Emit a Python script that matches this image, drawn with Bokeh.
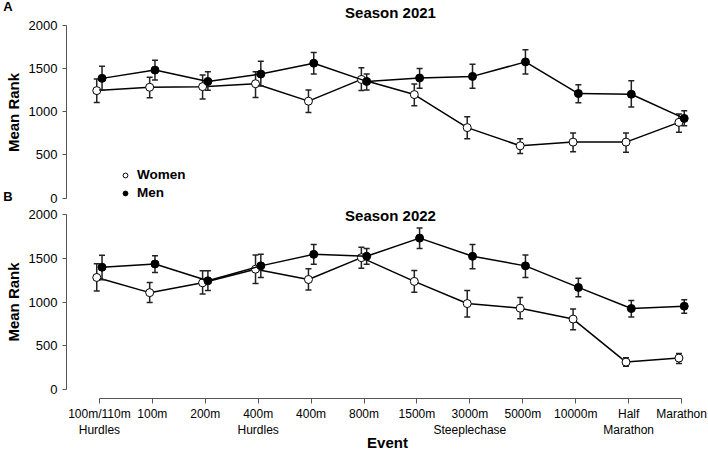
import math
from bokeh.plotting import figure
from bokeh.models import (ColumnDataSource, Legend, LegendItem, Label, FixedTicker, Range1d)
from bokeh.layouts import column, row
from bokeh.transform import dodge
from bokeh.core.properties import value
from bokeh.embed import file_html
from bokeh.resources import INLINE

# ---------------- data ----------------
events = ["100m/110m\nHurdles", "100m", "200m", "400m\nHurdles", "400m", "800m",
          "1500m", "3000m\nSteeplechase", "5000m", "10000m", "Half\nMarathon", "Marathon"]
event_pos = list(range(1, 13))
y_ticks = [0, 500, 1000, 1500, 2000]

w21_mean = [1245, 1284, 1291, 1325, 1123, 1375, 1199, 816, 605, 648, 648, 877]
w21_low = [1107, 1161, 1149, 1165, 992, 1245, 1069, 686, 517, 536, 529, 762]
w21_up = [1379, 1399, 1425, 1463, 1253, 1509, 1322, 943, 686, 755, 755, 973]
m21_mean = [1387, 1483, 1352, 1437, 1563, 1352, 1391, 1410, 1578, 1211, 1203, 923]
m21_low = [1253, 1368, 1250, 1299, 1437, 1253, 1272, 1272, 1437, 1103, 1054, 839]
m21_up = [1529, 1598, 1463, 1586, 1686, 1437, 1502, 1552, 1720, 1314, 1360, 1011]

w22_mean = [1284, 1110, 1223, 1379, 1261, 1511, 1239, 985, 932, 807, 314, 360]
w22_low = [1128, 997, 1095, 1216, 1140, 1390, 1114, 830, 810, 685, 265, 299]
w22_up = [1440, 1227, 1360, 1541, 1383, 1629, 1364, 1136, 1053, 924, 364, 413]
m22_mean = [1401, 1439, 1246, 1417, 1549, 1527, 1735, 1527, 1417, 1170, 928, 955]
m22_low = [1258, 1341, 1136, 1284, 1436, 1436, 1617, 1383, 1284, 1064, 830, 875]
m22_up = [1538, 1534, 1360, 1549, 1663, 1617, 1852, 1663, 1541, 1276, 1019, 1030]

panel_letters = ["A", "B"]
panel_titles = ["Season 2021", "Season 2022"]
y_label = "Mean Rank"
x_label = "Event"

FONT = "Liberation Sans"
AXIS_COL = "#555555"
BAR_COL = "#222222"
W_OFF, M_OFF = -0.05, 0.05
TOTAL_H = 454
STRIP_W = 25
MAIN_W = 708 - STRIP_W
X_RANGE = (0.3784, 12.5086)


def make_panel(height, b_top, b_bottom, yr, show_x):
    p = figure(width=MAIN_W, height=height, output_backend="svg", toolbar_location=None,
               x_range=Range1d(*X_RANGE), y_range=Range1d(*yr),
               min_border_left=39, min_border_right=0,
               min_border_top=b_top, min_border_bottom=b_bottom,
               x_axis_location="below" if show_x else None)
    p.outline_line_color = None
    p.xgrid.visible = False
    p.ygrid.visible = False
    p.background_fill_color = "white"
    p.border_fill_color = "white"

    ya = p.yaxis[0]
    ya.ticker = FixedTicker(ticks=y_ticks)
    ya.bounds = (0, 2000)
    ya.major_label_text_font = FONT
    ya.major_label_text_font_size = "13px"
    ya.major_label_text_color = "black"
    ya.major_label_standoff = 5
    ya.major_tick_out = 4
    ya.major_tick_in = 0
    ya.minor_tick_out = 0
    ya.minor_tick_in = 0
    ya.axis_line_color = AXIS_COL
    ya.major_tick_line_color = AXIS_COL

    if show_x:
        xa = p.xaxis[0]
        xa.ticker = FixedTicker(ticks=event_pos)
        xa.major_label_overrides = {i: lab for i, lab in zip(event_pos, events)}
        xa.bounds = (1, 12)
        xa.axis_label = x_label
        xa.axis_label_text_font = FONT
        xa.axis_label_text_font_style = "bold"
        xa.axis_label_text_font_size = "15px"
        xa.axis_label_text_color = "black"
        xa.axis_label_standoff = -6
        xa.major_label_text_font = FONT
        xa.major_label_text_font_size = "12px"
        xa.major_label_text_color = "black"
        xa.major_label_standoff = 3
        xa.major_tick_out = 5
        xa.major_tick_in = 0
        xa.minor_tick_out = 0
        xa.minor_tick_in = 0
        xa.axis_line_color = AXIS_COL
        xa.major_tick_line_color = AXIS_COL
    return p


def draw_series(p, mean, low, up, off, fill):
    src = ColumnDataSource(dict(x=event_pos, mean=mean, low=low, up=up))
    xs = dodge("x", off)
    p.line(x=xs, y="mean", source=src, line_color="black", line_width=1.5)
    p.segment(x0=xs, y0="low", x1=xs, y1="up", source=src,
              line_color=BAR_COL, line_width=1.5)
    p.scatter(x=xs, y="low", source=src, marker="dash", size=6,
              line_color=BAR_COL, line_width=1.5)
    p.scatter(x=xs, y="up", source=src, marker="dash", size=6,
              line_color=BAR_COL, line_width=1.5)
    r = p.scatter(x=xs, y="mean", source=src, marker="circle", size=8,
                  fill_color=fill, line_color="black", line_width=1)
    return r


def add_title(p, text, y):
    p.add_layout(Label(x=6.5, y=y, x_units="data", y_units="data", text=text,
                       text_font=FONT, text_font_style="bold",
                       text_font_size="15px", text_align="center", text_baseline="middle",
                       text_color="black"))


# ---------------- top panel (2021) ----------------
top = make_panel(206, 0, 0, (-98.55, 2289.9), False)
w_r = draw_series(top, w21_mean, w21_low, w21_up, W_OFF, "white")
m_r = draw_series(top, m21_mean, m21_low, m21_up, M_OFF, "black")
legend = Legend(items=[LegendItem(label="Women", renderers=[w_r]),
                       LegendItem(label="Men", renderers=[m_r])],
                location=(53, 6), padding=0, margin=0, spacing=3,
                glyph_width=12, glyph_height=14, label_height=14, label_standoff=6,
                label_text_font=FONT, label_text_font_style="bold",
                label_text_font_size="13.5px", label_text_color="black",
                background_fill_alpha=0, border_line_color=None)
top.add_layout(legend)
add_title(top, panel_titles[0], 2150)

# ---------------- bottom panel (2022) ----------------
bottom = make_panel(TOTAL_H - 206, 0, 56, (-103.2, 2097.4), True)
draw_series(bottom, w22_mean, w22_low, w22_up, W_OFF, "white")
draw_series(bottom, m22_mean, m22_low, m22_up, M_OFF, "black")
add_title(bottom, panel_titles[1], 1994)

# ---------------- left strip: panel letters and y-axis titles ----------------
strip = figure(width=STRIP_W, height=TOTAL_H, output_backend="svg", toolbar_location=None,
               x_range=Range1d(0, STRIP_W), y_range=Range1d(0, TOTAL_H),
               min_border=0, x_axis_location=None, y_axis_location=None)
strip.outline_line_color = None
strip.xgrid.visible = False
strip.ygrid.visible = False
strip.background_fill_color = "white"
strip.text(x=[7.5, 7.5], y=[TOTAL_H - 6, TOTAL_H - 196], text=panel_letters,
           text_font=value(FONT), text_font_style="bold", text_font_size="13px",
           text_align="center", text_baseline="middle", text_color="black")
strip.text(x=[13, 13], y=[TOTAL_H - 112, TOTAL_H - 301.5], text=[y_label, y_label],
           angle=math.pi / 2, text_font=value(FONT), text_font_style="bold",
           text_font_size="15px", text_align="center", text_baseline="middle",
           text_color="black")

layout = row(strip, column(top, bottom, spacing=0), spacing=0)
open("out.html", "w").write(file_html(layout, INLINE))
